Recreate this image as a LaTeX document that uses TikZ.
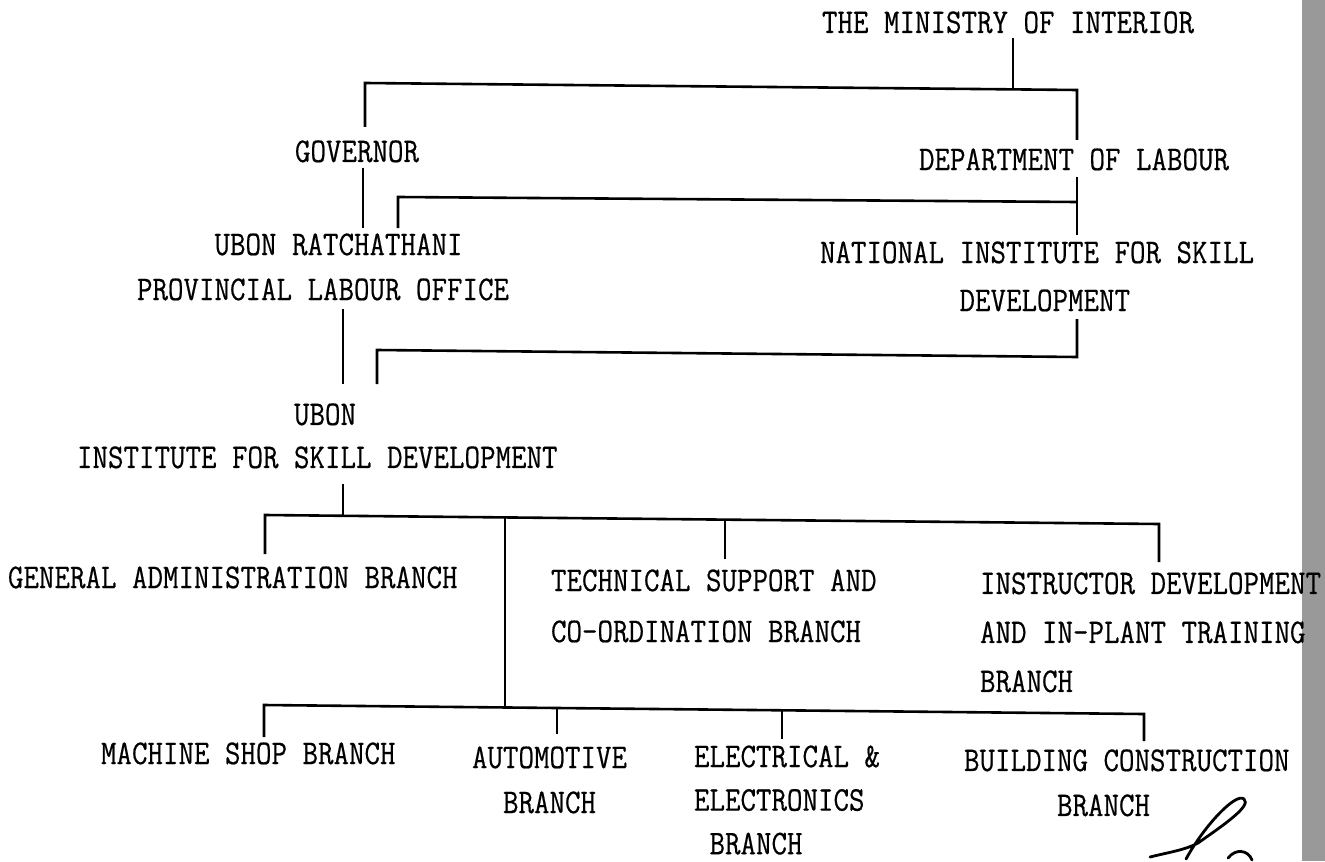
\documentclass[tikz,border=0pt]{standalone}
\usepackage{fontspec}
\setmonofont[FakeBold=0.5]{Latin Modern Mono}
\newcommand\ystr[1]{\scalebox{1}[1.15]{#1}}
\tikzset{
  txt/.style={font=\fontsize{15.05}{#1}\selectfont\ttfamily, inner sep=0pt, outer sep=0pt, anchor=north west, align=left},
  txt/.default=24,
  conn/.style={line width=1.3pt, line join=miter},
  sig/.style={line width=1.4pt, line cap=round},
}
\begin{document}
\begin{tikzpicture}[x=0.5pt, y=-0.5pt]
\fill[white] (0,0) rectangle (1325,861);
\useasboundingbox (0,0) rectangle (1325,861);
% scanned paper edge
\fill[black!40] (1302,0) rectangle (1325,861);

% ---- texts ----
\node[txt] (ministry) at (822,11.4) {\ystr{THE MINISTRY OF INTERIOR}};
\node[txt] (governor) at (295,140.4) {\ystr{GOVERNOR}};
\node[txt] (dept) at (919,148.4) {\ystr{DEPARTMENT OF LABOUR}};
\node[txt=22.5] (ubonprov) at (137,233.4) {\ystr{\phantom{PROVI}UBON RATCHATHANI}\\\ystr{PROVINCIAL LABOUR OFFICE}};
\node[txt=24] (national) at (820,241.4) {\ystr{NATIONAL INSTITUTE FOR SKILL}\\\ystr{\phantom{NATIONAL }DEVELOPMENT}};
\node[txt=21.5] (ubonisd) at (77,403.4) {\ystr{\phantom{INSTITUTE FOR }UBON}\\\ystr{INSTITUTE FOR SKILL DEVELOPMENT}};
\node[txt] (general) at (8,566.4) {\ystr{GENERAL ADMINISTRATION BRANCH}};
\node[txt=25.5] (technical) at (551,569.4) {\ystr{TECHNICAL SUPPORT AND}\\\ystr{CO-ORDINATION BRANCH}};
\node[txt=24.5] (instructor) at (980,572.4) {\ystr{INSTRUCTOR DEVELOPMENT}\\\ystr{AND IN-PLANT TRAINING}\\\ystr{BRANCH}};
\node[txt] (machine) at (101,742.4) {\ystr{MACHINE SHOP BRANCH}};
\node[txt=22.5] (automotive) at (472,746.4) {\ystr{AUTOMOTIVE}\\\ystr{\phantom{AU}BRANCH}};
\node[txt=21.8] (electrical) at (694,745.4) {\ystr{ELECTRICAL \&}\\\ystr{ELECTRONICS}\\\ystr{\phantom{E}BRANCH}};
\node[txt=22.5] (building) at (964,749.4) {\ystr{BUILDING CONSTRUCTION}\\\ystr{\phantom{BUILDI}BRANCH}};

% ---- connector points ----
\coordinate (minA) at (1013,38);
\coordinate (minB) at (1013,89.4);
\coordinate (topL) at (365,83);
\coordinate (topR) at (1077,90);
\coordinate (govT) at (365,127);
\coordinate (depT) at (1077,140);
\coordinate (govA) at (363,168);
\coordinate (govB) at (363,228);
\coordinate (depA) at (1077,177);
\coordinate (depB) at (1077,235);
\coordinate (secL) at (398,197);
\coordinate (secR) at (1077,202);
\coordinate (secD) at (398,228);
\coordinate (proA) at (343,309);
\coordinate (proB) at (343,384);
\coordinate (natA) at (1077,319);
\coordinate (natB) at (1077,357);
\coordinate (thiL) at (377,350);
\coordinate (thiD) at (377,384);
\coordinate (isdA) at (343,484);
\coordinate (isdB) at (343,515.4);
\coordinate (brL) at (265,515);
\coordinate (brR) at (1159,524);
\coordinate (genT) at (265,554);
\coordinate (insT) at (1159,562);
\coordinate (tecA) at (725,519.6);
\coordinate (tecB) at (725,559);
\coordinate (midA) at (505,517.4);
\coordinate (midB) at (505,707.3);
\coordinate (botL) at (264,705);
\coordinate (botR) at (1144,714);
\coordinate (macT) at (264,737);
\coordinate (bldT) at (1144,741);
\coordinate (autA) at (557,707.9);
\coordinate (autB) at (557,734);
\coordinate (eleA) at (782,710.2);
\coordinate (eleB) at (782,739);

% ---- connectors ----
\draw[conn] (minA) -- (minB);
\draw[conn] (govT) -- (topL) -- (topR) -- (depT);
\draw[conn] (govA) -- (govB);
\draw[conn] (depA) -- (depB);
\draw[conn] (secD) -- (secL) -- (secR);
\draw[conn] (proA) -- (proB);
\draw[conn] (natA) -- (natB) -- (thiL) -- (thiD);
\draw[conn] (isdA) -- (isdB);
\draw[conn] (genT) -- (brL) -- (brR) -- (insT);
\draw[conn] (tecA) -- (tecB);
\draw[conn] (midA) -- (midB);
\draw[conn] (macT) -- (botL) -- (botR) -- (bldT);
\draw[conn] (autA) -- (autB);
\draw[conn] (eleA) -- (eleB);

% ---- signature ----
\draw[sig] (1150,857) .. controls (1170,852) and (1185,850) .. (1198,843)
  .. controls (1222,826) and (1252,806) .. (1244,799)
  .. controls (1236,792) and (1204,826) .. (1186,859);
\draw[sig] (1228,858) .. controls (1236,848) and (1248,850) .. (1252,860);
\end{tikzpicture}
\end{document}
